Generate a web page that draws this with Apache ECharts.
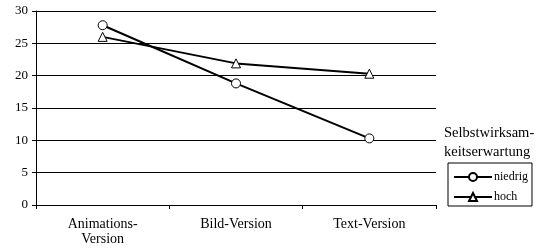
<!DOCTYPE html>
<html>
<head>
<meta charset="utf-8">
<script src="https://cdn.jsdelivr.net/npm/echarts@6/dist/echarts.min.js"></script>
<style>
	html, body { margin: 0; padding: 0; background: #fff; }
	#chart { width: 541px; height: 249px; }
</style>
</head>
<body>
<div id="chart"></div>
<script>
var categories = ['Animations-\nVersion', 'Bild-Version', 'Text-Version'];
var niedrig = [27.8, 18.8, 10.3];
var hoch = [26.0, 21.9, 20.3];
var yTicks = [0, 30, 5]; // min, max, interval

(function() {
	var myChart = echarts.init(document.getElementById('chart'));
	var font = 'Liberation Serif';

	option = {
		animation: false,
		textStyle: { fontFamily: font, color: '#000' },
		title: {
			text: 'Selbstwirksam-\nkeitserwartung',
			left: 444,
			top: 124,
			padding: 0,
			textStyle: {
				fontFamily: font,
				fontWeight: 'normal',
				fontSize: 14.5,
				lineHeight: 19,
				color: '#000'
			}
		},
		legend: {
			orient: 'vertical',
			left: 448,
			top: 163,
			padding: [8, 4, 3, 5],
			borderColor: '#000',
			borderWidth: 1,
			borderRadius: 0,
			itemWidth: 38,
			itemHeight: 10,
			itemGap: 8,
			textStyle: { fontFamily: font, fontSize: 12, color: '#000', padding: [0, 0, 0, -3] },
			data: ['niedrig', 'hoch']
		},
		grid: {
			left: 36,
			right: 105,
			top: 11,
			bottom: 44
		},
		xAxis: {
			type: 'category',
			data: categories,
			boundaryGap: true,
			axisLine: { lineStyle: { color: '#000', width: 1 } },
			axisTick: { show: true, length: 4, lineStyle: { color: '#000' } },
			axisLabel: {
				color: '#000',
				fontFamily: font,
				fontSize: 14,
				lineHeight: 15,
				margin: 12
			}
		},
		yAxis: {
			type: 'value',
			min: yTicks[0],
			max: yTicks[1],
			interval: yTicks[2],
			axisLine: { show: true, lineStyle: { color: '#000', width: 1 } },
			axisTick: { show: true, length: 4, lineStyle: { color: '#000' } },
			axisLabel: { color: '#000', fontFamily: font, fontSize: 13, margin: 8 },
			splitLine: { show: true, lineStyle: { color: '#000', width: 1 } }
		},
		series: [{
				name: 'niedrig',
				type: 'line',
				data: niedrig,
				symbol: 'circle',
				symbolSize: 9,
				showAllSymbol: true,
				lineStyle: { color: '#000', width: 2 },
				itemStyle: { color: '#fff', borderColor: '#000', borderWidth: 1 }
			},
			{
				name: 'hoch',
				type: 'line',
				data: hoch,
				symbol: 'triangle',
				symbolSize: 9,
				showAllSymbol: true,
				lineStyle: { color: '#000', width: 2 },
				itemStyle: { color: '#fff', borderColor: '#000', borderWidth: 1 }
			}
		]
	};

	myChart.setOption(option);
})();
</script>
</body>
</html>
